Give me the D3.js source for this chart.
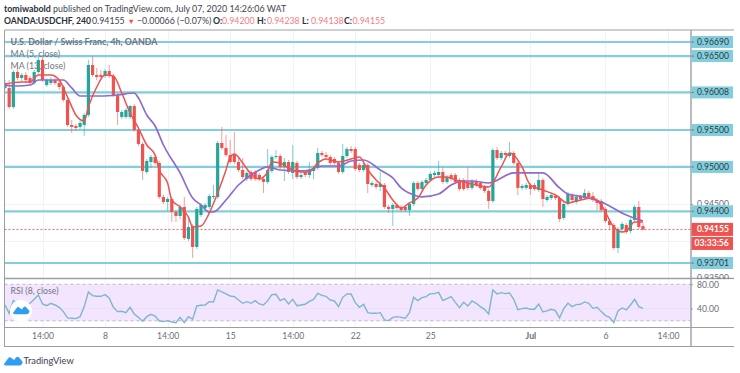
<!DOCTYPE html>
<html>
<head>
<meta charset="utf-8">
<script src="https://cdn.jsdelivr.net/npm/d3@7"></script>
<style>
  html, body { margin: 0; padding: 0; background: #fff; }
  svg { display: block; font-family: Lato, "Open Sans", sans-serif; }
  .domain { display: none; }
</style>
</head>
<body>
<div id="chart"></div>
<script>
var candleOpen = [.96068,.96068,.95811,.96284,.96203,.96244,.96203,.96135,.96284,.96447,.96108,.96135,.96176,.96135,.96081,.95906,.95568,.95554,.95541,.95568,
.95703,.96379,.96244,.96244,.96230,.96298,.96230,.95973,.95676,.95676,.95676,.95824,.95500,.95311,.94932,.95067,.95135,.95054,.94594,.94526,
.94567,.94391,.94337,.94459,.94026,.94202,.93918,.94350,.94445,.94459,.94594,.94594,.95324,.95257,.95162,.95162,.95067,.94959,.94837,.94932,
.94932,.94891,.94837,.94797,.94946,.95135,.95148,.95000,.95067,.94919,.95054,.94864,.94932,.94891,.94946,.94986,.95189,.95162,.95135,.95108,
.95054,.94932,.95148,.95243,.95243,.95027,.94959,.95027,.94756,.94770,.94729,.94756,.94459,.94432,.94486,.94459,.94459,.94418,.94499,.94783,
.94702,.94783,.94824,.94891,.94891,.94932,.94797,.94891,.94891,.94824,.94824,.94797,.94716,.94810,.94783,.94729,.94675,.94540,.95229,.95121,
.95189,.95148,.95189,.95054,.94716,.94716,.94756,.94756,.94688,.94824,.94553,.94580,.94607,.94580,.94310,.94499,.94621,.94526,.94594,.94580,
.94648,.94607,.94553,.94540,.94432,.94269,.94215,.93904,.94161,.94215,.94134,.94283,.94459,.94200];
var candleHigh = [.96176,.96176,.96311,.96379,.96271,.96284,.96230,.96311,.96487,.96487,.96203,.96217,.96203,.96163,.96108,.95933,.95635,.95581,.95622,.95730,
.96447,.96501,.96338,.96311,.96325,.96379,.96257,.96000,.95770,.95797,.95838,.95851,.95527,.95338,.95108,.95162,.95162,.95081,.94621,.94594,
.94594,.94418,.94486,.94594,.94323,.94229,.94459,.94513,.94513,.94634,.94756,.95351,.95541,.95432,.95365,.95473,.95121,.95121,.94946,.94959,
.94959,.94919,.94864,.95243,.95162,.95229,.95175,.95121,.95094,.95297,.95081,.94919,.94959,.95067,.95013,.95257,.95216,.95202,.95162,.95135,
.95081,.95311,.95270,.95284,.95270,.95054,.95054,.95054,.94810,.94797,.94932,.94783,.94486,.94513,.94513,.94486,.94486,.94526,.94810,.94810,
.94824,.94851,.94932,.94946,.95081,.95000,.94891,.94919,.94919,.94851,.94851,.95000,.94837,.94837,.94810,.94756,.94702,.95257,.95270,.95216,
.95216,.95338,.95216,.95081,.94770,.94783,.94783,.94783,.94932,.94851,.94621,.94648,.94634,.94607,.94526,.94661,.94648,.94621,.94621,.94702,
.94675,.94661,.94580,.94567,.94459,.94296,.94242,.94188,.94256,.94242,.94310,.94486,.94540,.94238];
var candleLow = [.96041,.95784,.95784,.96176,.96163,.96135,.96108,.96108,.96257,.96149,.96081,.96108,.96108,.96041,.95879,.95541,.95459,.95486,.95514,.95419,
.95676,.96217,.96176,.96190,.96203,.96203,.95946,.95568,.95649,.95649,.95649,.95473,.95284,.94824,.94905,.94986,.95027,.94567,.94499,.94405,
.94256,.94256,.94296,.94012,.93999,.93769,.93890,.94323,.94405,.94432,.94567,.94567,.95229,.95135,.95040,.95040,.94932,.94837,.94810,.94810,
.94810,.94810,.94648,.94770,.94919,.95108,.94973,.94810,.94905,.94837,.94837,.94837,.94864,.94851,.94837,.94959,.95135,.95108,.95027,.95027,
.94905,.94905,.95121,.95189,.94946,.94932,.94932,.94648,.94729,.94702,.94675,.94432,.94378,.94202,.94418,.94391,.94391,.94337,.94472,.94675,
.94675,.94756,.94797,.94864,.94864,.94770,.94770,.94810,.94770,.94675,.94675,.94688,.94688,.94729,.94688,.94648,.94432,.94513,.95094,.95094,
.95135,.95121,.95027,.94621,.94688,.94688,.94621,.94675,.94661,.94459,.94526,.94553,.94553,.94256,.94283,.94472,.94526,.94499,.94540,.94553,
.94567,.94526,.94418,.94391,.94242,.94147,.93877,.93836,.94120,.94093,.94107,.94256,.94161,.94138];
var candleClose = [.96135,.95811,.96284,.96203,.96244,.96176,.96135,.96284,.96447,.96176,.96176,.96176,.96135,.96081,.95906,.95568,.95541,.95527,.95595,.95703,
.96379,.96244,.96217,.96217,.96298,.96230,.95973,.95743,.95743,.95770,.95824,.95500,.95311,.94946,.95081,.95135,.95054,.94594,.94526,.94567,
.94391,.94337,.94459,.94039,.94188,.93918,.94432,.94486,.94486,.94607,.94607,.95324,.95257,.95162,.95067,.95067,.94959,.94864,.94919,.94837,
.94837,.94837,.94797,.94959,.95135,.95148,.95000,.95067,.94932,.95067,.94864,.94891,.94891,.94959,.94986,.95189,.95162,.95135,.95054,.95054,
.94932,.95148,.95243,.95216,.94973,.94959,.95027,.94770,.94783,.94729,.94770,.94459,.94432,.94486,.94445,.94418,.94418,.94499,.94783,.94702,
.94797,.94824,.94905,.94919,.94932,.94797,.94864,.94837,.94797,.94702,.94702,.94716,.94810,.94756,.94716,.94675,.94540,.95229,.95121,.95189,
.95162,.95189,.95054,.94716,.94743,.94756,.94702,.94702,.94824,.94567,.94594,.94621,.94580,.94296,.94499,.94634,.94553,.94594,.94567,.94648,
.94594,.94553,.94513,.94418,.94269,.94215,.93904,.94161,.94229,.94120,.94283,.94459,.94188,.94155];

var ma5Index = [0,4,6,8,11,13,15,17,19,20,22,24,26,28,30,32,34,36,37,39,40,42,44,45,47,49,51,53,54,55,57,59,61,63,64,66,68,71,73,75,77,80,83,85,87,89,91,93,95,97,99,101,104,106,108,111,113,116,119,121,122,124,126,129,132,135,138,141,143,146,148,149,151,153];
var ma5Values = [.96122,.96149,.96149,.96244,.96244,.96176,.95946,.95703,.95622,.95811,.96081,.96244,.96230,.96000,.95730,.95527,.95297,.95162,.94959,.94783,.94553,.94459,.94323,.94188,.94202,.94378,.94648,.94959,.95135,.95175,.95054,.94905,.94837,.94932,.95067,.95054,.94986,.94932,.94932,.95054,.95108,.95067,.95108,.95135,.94959,.94824,.94716,.94553,.94445,.94513,.94580,.94756,.94864,.94864,.94824,.94783,.94756,.94729,.95000,.95189,.95162,.95000,.94756,.94688,.94621,.94513,.94553,.94580,.94486,.94188,.94120,.94134,.94256,.94256];
var ma13Index = [0,3,6,8,11,14,16,18,23,27,31,32,34,36,38,42,45,47,49,50,53,56,59,61,63,66,71,73,76,80,83,86,90,93,95,98,100,104,107,110,112,116,122,128,129,133,135,139,143,149,153];
var ma13Values = [.96108,.96095,.96108,.96176,.96176,.96176,.96068,.95960,.95960,.95973,.96000,.95933,.95703,.95554,.95297,.94919,.94580,.94486,.94391,.94391,.94553,.94756,.94891,.94959,.95000,.94959,.94946,.94959,.95013,.95013,.95081,.95094,.94959,.94851,.94716,.94621,.94594,.94634,.94756,.94810,.94810,.94783,.94919,.94919,.94919,.94716,.94634,.94594,.94526,.94350,.94269];

var rsiValues = [46,32.3,53.1,48.8,46,43.3,48.8,55.3,62.5,47.7,44.9,48.8,46,42.2,35.1,24.7,24.1,23.6,26.8,43.3,
67.4,61.4,60.3,60.3,63,57,42.2,35.1,35.6,33.4,42.2,31.2,25.7,19.2,26.8,30.7,27.9,19.7,18.6,20.3,
18.1,17,25.7,17,26.8,22.5,44.4,45.5,46,51.5,51,70.7,67.4,64.1,60.8,59.7,54.2,48.8,51.5,48.8,
53.1,47.7,46,53.1,63,63.6,53.1,56.4,47.7,55.3,44.9,46,47.1,52,55.3,65.2,61.9,60.3,54.2,52.6,
43.3,58.6,64.1,64.1,49.9,42.2,47.1,33.4,32.3,32.3,33.4,21.4,20.3,25.7,26.8,25.7,24.1,33.4,58.6,53.1,
58.1,59.7,64.7,64.7,66.8,53.1,56.4,59.7,50.4,41.6,50.4,44.4,52.6,48.8,43.3,38.9,31.2,70.7,64.1,66.3,
64.7,65.8,55.3,38.4,40,41.1,38.9,38.9,47.7,34.5,36.2,38.9,36.7,24.7,40,48.8,43.3,46.6,47.1,51,
48.8,40.5,42.2,35.1,28.5,25.7,17,36.2,41.1,37.8,46,55.3,43.3,40.5];

var levelValues = [0.96690, 0.96500, 0.96008, 0.95500, 0.95000, 0.94400, 0.93701];
var priceGridValues = [0.965, 0.96, 0.955, 0.95, 0.945, 0.94, 0.935];
var priceAxisLabels = [0.945, 0.935];
var lastPrice = 0.94155;
var countdown = "03:33:56";
var rsiTicks = [80, 40];
var rsiBands = [80, 20];
var timeTickIndex = [9, 24, 39, 54, 69, 84, 102, 126, 144, 159];
var timeTickLabels = ["14:00", "8", "14:00", "15", "14:00", "22", "25", "Jul", "6", "14:00"];

var width = 740, height = 373;
var paneLeft = 4.5, paneRight = 691, paneTop = 30, paneBottom = 278, rsiBottom = 327, frameBottom = 347, frameRight = 734;
var axisFont = "8.6px";

var svg = d3.select("#chart").append("svg").attr("width", width).attr("height", height);

var x = d3.scaleLinear().domain([0, 165]).range([5, 693]);
var y = d3.scaleLinear().domain([0.9669, 0.93701]).range([42, 263]);
var yRsi = d3.scaleLinear().domain([80, 20]).range([284.3, 320.8]);

var defs = svg.append("defs");
defs.append("clipPath").attr("id", "priceClip").append("rect")
    .attr("x", paneLeft).attr("y", paneTop).attr("width", paneRight - paneLeft).attr("height", paneBottom - paneTop);
defs.append("clipPath").attr("id", "rsiClip").append("rect")
    .attr("x", paneLeft).attr("y", paneBottom).attr("width", paneRight - paneLeft).attr("height", rsiBottom - paneBottom);

// header text
var head1 = svg.append("text").attr("x", 4).attr("y", 12).style("font-size", "8.85px").style("fill", "#3d4250");
head1.append("tspan").style("font-weight", "700").style("fill", "#2a2e39").text("tomiwabold");
head1.append("tspan").text(" published on TradingView.com, July 07, 2020 14:26:06 WAT");

var head2 = svg.append("g").style("font-size", "8.8px").style("fill", "#3d4250");
var headParts = [
    {x: 4, t: "OANDA:USDCHF, 240", bold: true, size: "8.6px"},
    {x: 92, t: "0.94155"},
    {x: 127.5, t: "▼", red: true, size: "7.5px"},
    {x: 137, t: "−0.00066 (−0.07%)"},
    {x: 213, t: "O:", bold: true},
    {x: 222, t: "0.94200", soft: true},
    {x: 257, t: "H:", bold: true},
    {x: 267, t: "0.94238", soft: true},
    {x: 302, t: "L:", bold: true},
    {x: 311, t: "0.94138", soft: true},
    {x: 344, t: "C:", bold: true},
    {x: 352.5, t: "0.94155", soft: true}
];
head2.selectAll("text").data(headParts).enter().append("text")
    .attr("x", function(d) { return d.x; }).attr("y", 24)
    .style("font-size", function(d) { return d.size || null; })
    .style("font-weight", function(d) { return d.bold ? "700" : "400"; })
    .style("fill", function(d) { return d.red ? "#ef5350" : d.soft ? "#f77c80" : d.bold ? "#2a2e39" : "#3d4250"; })
    .text(function(d) { return d.t; });

// grid
var grid = svg.append("g");
grid.selectAll(".vgrid").data(timeTickIndex).enter().append("line")
    .attr("x1", function(d) { return Math.round(x(d)) + 0.5; })
    .attr("x2", function(d) { return Math.round(x(d)) + 0.5; })
    .attr("y1", paneTop).attr("y2", rsiBottom)
    .style("stroke", "#edf4f8");
grid.selectAll(".hgrid").data(priceGridValues).enter().append("line")
    .attr("x1", paneLeft).attr("x2", paneRight)
    .attr("y1", function(d) { return Math.round(y(d)) + 0.5; })
    .attr("y2", function(d) { return Math.round(y(d)) + 0.5; })
    .style("stroke", "#edf4f8");

// levels
svg.append("g").selectAll("line").data(levelValues).enter().append("line")
    .attr("x1", paneLeft).attr("x2", paneRight)
    .attr("y1", function(d) { return y(d); })
    .attr("y2", function(d) { return y(d); })
    .style("stroke", "#82cedd").style("stroke-width", 2.2);

// last price line
svg.append("line").attr("x1", paneLeft).attr("x2", paneRight)
    .attr("y1", Math.round(y(lastPrice)) + 0.5).attr("y2", Math.round(y(lastPrice)) + 0.5)
    .style("stroke", "#f0696a").style("stroke-dasharray", "2,2");

// candles
var upColor = "#26a69a", downColor = "#ef5350";
var candles = svg.append("g").attr("clip-path", "url(#priceClip)");
candles.selectAll(".wick").data(candleOpen).enter().append("line")
    .attr("x1", function(d, i) { return x(i); })
    .attr("x2", function(d, i) { return x(i); })
    .attr("y1", function(d, i) { return y(candleHigh[i]); })
    .attr("y2", function(d, i) { return y(candleLow[i]); })
    .style("stroke", function(d, i) { return candleClose[i] >= d ? upColor : downColor; })
    .style("stroke-width", 1).style("opacity", 0.55);
candles.selectAll(".body").data(candleOpen).enter().append("rect")
    .attr("x", function(d, i) { return x(i) - 1.6; })
    .attr("width", 3.2)
    .attr("y", function(d, i) { return y(Math.max(d, candleClose[i])); })
    .attr("height", function(d, i) { return Math.max(1, Math.abs(y(d) - y(candleClose[i]))); })
    .style("fill", function(d, i) { return candleClose[i] >= d ? upColor : downColor; });

// moving averages
var maLine = function(indexArr) {
    return d3.line().x(function(d, i) { return x(indexArr[i]); }).y(function(d) { return y(d); }).curve(d3.curveMonotoneX);
};
var maGroup = svg.append("g").attr("clip-path", "url(#priceClip)").style("fill", "none");
maGroup.append("path").attr("d", maLine(ma13Index)(ma13Values)).style("stroke", "#8e6bd0").style("stroke-width", 1.7);
maGroup.append("path").attr("d", maLine(ma5Index)(ma5Values)).style("stroke", "#f0514f").style("stroke-width", 1.5);

// legend
var legend = svg.append("g").style("fill", "#6f7480");
legend.append("text").attr("x", 10.5).attr("y", 45).style("font-size", "8.9px").style("font-weight", "700").text("U.S. Dollar / Swiss Franc, 4h, OANDA");
legend.append("text").attr("x", 10.5).attr("y", 57).style("font-size", "8.8px").text("MA (5, close)");
legend.append("text").attr("x", 10.5).attr("y", 69).style("font-size", "8.8px").text("MA (13, close)");

// rsi pane
svg.append("rect").attr("x", paneLeft).attr("width", paneRight - paneLeft)
    .attr("y", yRsi(80)).attr("height", yRsi(20) - yRsi(80))
    .style("fill", "#f3e5fd");
svg.selectAll(".vgridRsi").data(timeTickIndex).enter().append("line")
    .attr("x1", function(d) { return Math.round(x(d)) + 0.5; })
    .attr("x2", function(d) { return Math.round(x(d)) + 0.5; })
    .attr("y1", yRsi(80)).attr("y2", yRsi(20))
    .style("stroke", "#edeaf8");
svg.append("line").attr("x1", paneLeft).attr("x2", paneRight).attr("y1", yRsi(40)).attr("y2", yRsi(40)).style("stroke", "#e8e0f6");
svg.selectAll(".band").data(rsiBands).enter().append("line")
    .attr("x1", paneLeft).attr("x2", paneRight)
    .attr("y1", function(d) { return yRsi(d); }).attr("y2", function(d) { return yRsi(d); })
    .style("stroke", "#c4b3cf").style("stroke-dasharray", "3,3");
svg.append("path").attr("clip-path", "url(#rsiClip)")
    .attr("d", d3.line().x(function(d, i) { return x(i); }).y(function(d) { return yRsi(d); })(rsiValues))
    .style("fill", "none").style("stroke", "#7db7cf").style("stroke-width", 1.4);
svg.append("text").attr("x", 10.5).attr("y", 294).style("font-size", "8.7px").style("fill", "#6f7480").text("RSI (8, close)");

// logo
var cloud = "M0,9 L4,3.5 Q5.5,1.5 7.5,3 L10,5 L12,2.5 Q13.5,1 15,2.5 L18,6 Q19.5,7.5 18,9 Q17,10.5 15,10.5 L3,10.5 Q0,10.5 0,9 Z";
svg.append("circle").attr("cx", 21).attr("cy", 311).attr("r", 11).style("fill", "#fff");
svg.append("path").attr("d", cloud).attr("transform", "translate(13,305) scale(0.88)").style("fill", "#2f9ef0");
svg.append("path").attr("d", cloud).attr("transform", "translate(4,355)").style("fill", "#2f9ef0");
svg.append("text").attr("x", 23.5).attr("y", 364).style("font-size", "9.3px").style("fill", "#3d4250").text("TradingView");

// frame
var frameColor = "#9a9ea7";
var frame = svg.append("g").style("stroke", frameColor).style("fill", "none");
frame.append("path").attr("d", "M" + paneLeft + "," + frameBottom + " V" + paneTop + " H" + frameRight).style("stroke-width", 1);
frame.append("line").attr("x1", paneLeft).attr("x2", frameRight).attr("y1", frameBottom - 0.5).attr("y2", frameBottom - 0.5).style("stroke-width", 1.2);
frame.append("line").attr("x1", paneLeft).attr("x2", frameRight).attr("y1", rsiBottom + 0.5).attr("y2", rsiBottom + 0.5).style("stroke-width", 1);
frame.append("line").attr("x1", paneLeft).attr("x2", frameRight).attr("y1", 278.5).attr("y2", 278.5).style("stroke-width", 1.6);
frame.append("line").attr("x1", paneRight).attr("x2", paneRight).attr("y1", paneTop).attr("y2", frameBottom).style("stroke-width", 1.4);

// time axis
var timeAxis = d3.axisBottom(x).tickValues(timeTickIndex)
    .tickFormat(function(d, i) { return timeTickLabels[i]; }).tickSize(0).tickPadding(6);
var timeG = svg.append("g").attr("transform", "translate(0," + rsiBottom + ")").call(timeAxis);
timeG.selectAll("text").style("font-family", "Lato, sans-serif").style("font-size", axisFont).style("fill", "#6a6e78")
    .style("font-weight", function(d, i) { return timeTickLabels[i] === "Jul" ? "700" : "400"; });

// price axis, plain grey labels first
var priceAxis = d3.axisRight(y).tickValues(priceAxisLabels)
    .tickFormat(d3.format(".5f")).tickSize(2).tickPadding(4);
var priceG = svg.append("g").attr("transform", "translate(" + paneRight + ",0)").call(priceAxis);
priceG.selectAll("text").style("font-family", "Lato, sans-serif").style("font-size", axisFont).style("fill", "#6a6e78");
priceG.selectAll("line").style("stroke", "#9a9ea7");

// cover so the 0.93500 label is cut by the rsi pane
svg.append("rect").attr("x", paneRight + 1).attr("y", 279.3).attr("width", 42).attr("height", 47).style("fill", "#fff");

// level labels
var labelW = 41.5;
var levelG = svg.append("g").selectAll("g").data(levelValues).enter().append("g")
    .attr("transform", function(d) { return "translate(" + paneRight + "," + y(d) + ")"; });
levelG.append("rect").attr("x", 0.5).attr("y", -6).attr("width", labelW).attr("height", 12).style("fill", "#82cedd");
levelG.append("line").attr("x1", 0.5).attr("x2", 2.5).style("stroke", "#4e6a72");
levelG.append("text").attr("x", 6).attr("y", 3).style("font-size", axisFont).style("fill", "#2f3a40")
    .text(function(d) { return d3.format(".5f")(d); });

// last price and countdown
var lastG = svg.append("g").attr("transform", "translate(" + paneRight + "," + y(lastPrice) + ")");
lastG.append("rect").attr("x", 0.5).attr("y", -6.5).attr("width", labelW).attr("height", 13).style("fill", "#ef5350");
lastG.append("rect").attr("x", 0.5).attr("y", 7.5).attr("width", labelW).attr("height", 13).style("fill", "#ef5350");
lastG.append("text").attr("x", 6).attr("y", 3).style("font-size", axisFont).style("font-weight", "700").style("fill", "#fff").text(d3.format(".5f")(lastPrice));
lastG.append("text").attr("x", 3.5).attr("y", 17).style("font-size", axisFont).style("font-weight", "700").style("fill", "#fff").text(countdown);

// rsi labels
var rsiAxis = d3.axisRight(yRsi).tickValues(rsiTicks).tickFormat(d3.format(".2f")).tickSize(2).tickPadding(4);
var rsiG = svg.append("g").attr("transform", "translate(" + paneRight + ",0)").call(rsiAxis);
rsiG.selectAll("text").style("font-family", "Lato, sans-serif").style("font-size", axisFont).style("fill", "#6a6e78");
rsiG.selectAll("line").style("stroke", "#9a9ea7");
</script>
</body>
</html>
